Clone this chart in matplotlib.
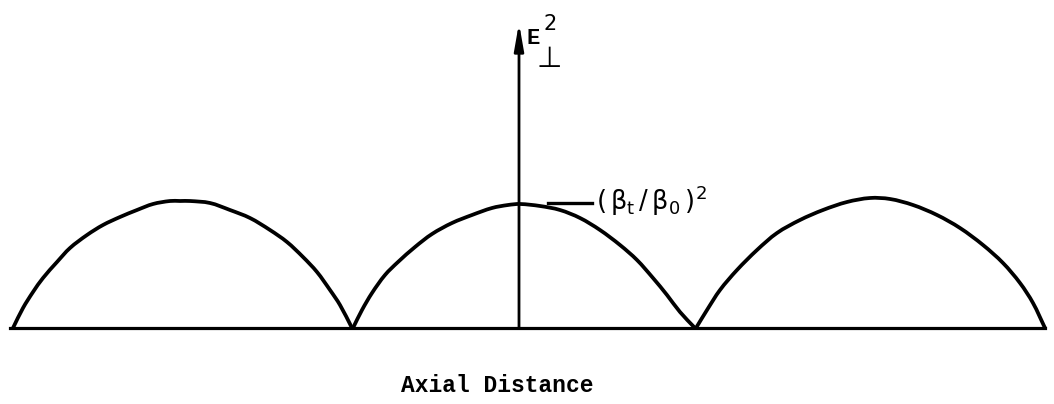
import numpy as np
import matplotlib
matplotlib.use("Agg")
import matplotlib.pyplot as plt
from matplotlib.path import Path
from matplotlib.patches import PathPatch

plt.rcParams['mathtext.default'] = 'regular'

# axial distance (axis at 0) and E^2, one list per arch
arch1_x = [-5.06, -4.96, -4.86, -4.76, -4.62, -4.49, -4.32, -4.16, -3.99,
           -3.82, -3.66, -3.49, -3.39, -3.29, -3.09, -2.89, -2.69, -2.49,
           -2.32, -2.16, -2.02, -1.89, -1.79, -1.67]
arch1_y = [0.0, 0.20, 0.36, 0.50, 0.66, 0.80, 0.93, 1.03, 1.11,
           1.18, 1.24, 1.27, 1.27, 1.27, 1.25, 1.18, 1.10, 0.98,
           0.86, 0.71, 0.56, 0.38, 0.23, 0.0]

arch2_x = [-1.66, -1.57, -1.47, -1.34, -1.21, -1.04, -0.87, -0.67, -0.47,
           -0.27, -0.11, 0.01, 0.21, 0.41, 0.61, 0.81, 1.01, 1.18,
           1.34, 1.48, 1.61, 1.76]
arch2_y = [0.0, 0.18, 0.35, 0.53, 0.66, 0.81, 0.94, 1.05, 1.13,
           1.20, 1.23, 1.24, 1.22, 1.18, 1.10, 0.98, 0.83, 0.68,
           0.50, 0.33, 0.16, 0.0]

arch3_x = [1.77, 1.88, 2.01, 2.18, 2.38, 2.58, 2.81, 3.04, 3.28, 3.51,
           3.71, 3.94, 4.18, 4.41, 4.64, 4.84, 5.01, 5.14, 5.26]
arch3_y = [0.0, 0.18, 0.38, 0.58, 0.78, 0.95, 1.08, 1.18, 1.26, 1.30,
           1.29, 1.23, 1.13, 1.00, 0.83, 0.65, 0.45, 0.25, 0.0]

baseline_x = [-5.09, 5.26]
axis_top = 3.05
peak_label = r'$(\,\beta_{t}\,/\,\beta_{0}\,)^{2}$'
x_label = "Axial Distance"


def smooth_path(xs, ys):
    # cubic bezier through the read points, tangents scaled by chord length
    pts = np.column_stack([xs, ys])
    n = len(pts)
    tang = np.zeros_like(pts)
    for i in range(n):
        a = pts[max(i - 1, 0)]
        b = pts[min(i + 1, n - 1)]
        d = np.hypot(*(b - a))
        tang[i] = (b - a) / d if d > 0 else 0
    verts = [pts[0]]
    codes = [Path.MOVETO]
    for i in range(n - 1):
        seg = np.hypot(*(pts[i + 1] - pts[i])) / 3.0
        verts += [pts[i] + tang[i] * seg, pts[i + 1] - tang[i + 1] * seg,
                  pts[i + 1]]
        codes += [Path.CURVE4] * 3
    return Path(verts, codes)


fig = plt.figure(figsize=(10.54, 4.04), dpi=100)
ax = fig.add_axes([0, 0, 1, 1])
ax.set_xlim(-5.19, 5.35)
ax.set_ylim(-0.76, 3.28)
ax.axis('off')

# the three arches
for xs, ys in [(arch1_x, arch1_y), (arch2_x, arch2_y), (arch3_x, arch3_y)]:
    ax.add_patch(PathPatch(smooth_path(xs, ys), facecolor='none',
                           edgecolor='black', lw=2.7, capstyle='round',
                           joinstyle='round'))

# baseline
ax.plot(baseline_x, [0, 0], color='black', lw=2.3)

# vertical axis with arrow
ax.annotate('', xy=(0, axis_top), xytext=(0, 0),
            arrowprops=dict(arrowstyle='-|>,head_length=1.6,head_width=0.28',
                            lw=2.0, color='black', shrinkA=0, shrinkB=0))

# E^2 perp label
ax.text(0.14, 2.90, "E", fontsize=16, family='Liberation Mono',
        fontweight='bold', ha='center', va='center')
ax.text(0.31, 3.04, "2", fontsize=15, family='DejaVu Sans',
        ha='center', va='center')
ax.text(0.30, 2.69, "\u22a5", fontsize=21, family='DejaVu Sans',
        ha='center', va='center')

# leader to middle peak
ax.plot([0.29, 0.73], [1.25, 1.25], color='black', lw=2.4)
ax.text(0.77, 1.27, peak_label, fontsize=18.5, ha='left', va='center')

ax.text(-0.22, -0.58, x_label, fontsize=16.5, family='Liberation Mono',
        fontweight='bold', ha='center', va='center')

fig.savefig("out.png", dpi=100)
